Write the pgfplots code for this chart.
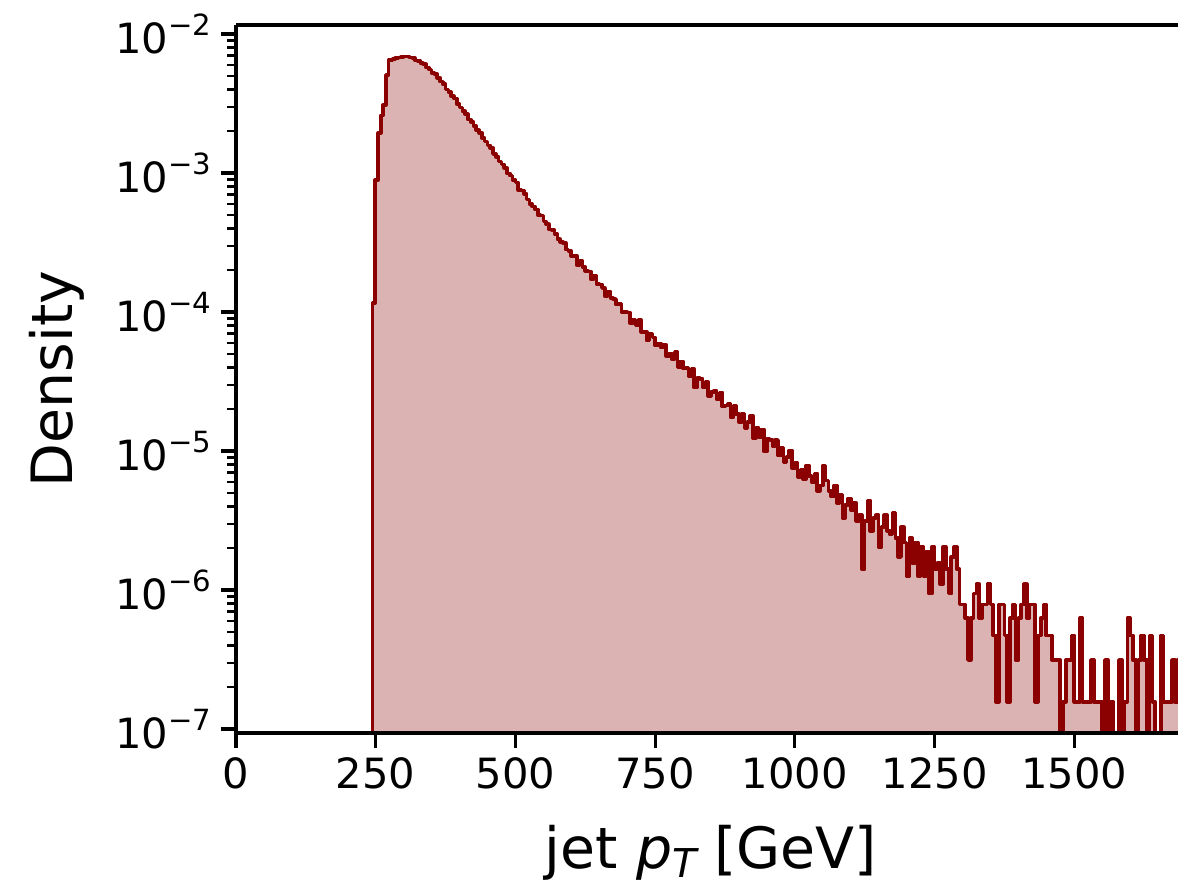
\documentclass[border=0pt]{standalone}
\usepackage{fontspec}
\setmainfont{DejaVu Sans}
\usepackage{pgfplots}
\usepackage{pgfplotstable}
\pgfplotsset{compat=1.18}
\definecolor{histline}{RGB}{139,0,0}
\definecolor{histfill}{RGB}{220,179,179}
\newcommand{\tsup}[1]{10\raisebox{6.4pt}{\fontsize{10.5}{12}\selectfont −#1}}
\pgfplotstableread{
x y
244.5 1e-9
244.5 1.16e-4
249 8.9e-4
254.5 1.94e-3
259 2.6e-3
263.5 3.1e-3
268.5 5.07e-3
273 6.5e-3
280 6.6e-3
285 6.7e-3
290 6.8e-3
295 6.85e-3
300 6.9e-3
305 6.9e-3
310 6.8e-3
315 6.72e-3
320 6.46e-3
325 6.40e-3
330 6.16e-3
335 6.07e-3
340 5.74e-3
345 5.57e-3
350 5.25e-3
355 5.14e-3
360 4.85e-3
365 4.54e-3
370 4.35e-3
375 4.00e-3
380 3.82e-3
385 3.57e-3
390 3.43e-3
395 3.13e-3
400 2.97e-3
405 2.78e-3
410 2.65e-3
415 2.42e-3
420 2.33e-3
425 2.18e-3
430 2.03e-3
435 1.95e-3
440 1.78e-3
445 1.69e-3
450 1.58e-3
455 1.51e-3
460 1.37e-3
465 1.31e-3
470 1.21e-3
475 1.15e-3
480 1.09e-3
485 9.95e-4
490 9.57e-4
495 8.93e-4
500 8.54e-4
505 7.54e-4
510 7.47e-4
515 7.10e-4
520 6.44e-4
525 5.98e-4
530 5.75e-4
535 5.48e-4
540 4.99e-4
545 4.94e-4
550 4.48e-4
555 4.28e-4
560 3.92e-4
565 3.88e-4
570 3.63e-4
575 3.34e-4
580 3.20e-4
585 3.14e-4
590 2.81e-4
595 2.74e-4
600 2.52e-4
605 2.54e-4
610 2.17e-4
615 2.33e-4
620 2.11e-4
625 1.98e-4
630 1.96e-4
635 1.72e-4
640 1.82e-4
645 1.59e-4
650 1.58e-4
655 1.49e-4
660 1.30e-4
665 1.40e-4
670 1.26e-4
675 1.24e-4
680 1.13e-4
685 1.15e-4
690 9.98e-5
695 9.97e-5
700 9.91e-5
705 8.32e-5
710 8.85e-5
715 8.00e-5
720 8.74e-5
725 7.20e-5
730 7.19e-5
735 6.23e-5
740 7.01e-5
745 6.57e-5
750 5.75e-5
755 5.93e-5
760 5.57e-5
765 5.82e-5
770 4.81e-5
775 5.00e-5
780 4.57e-5
785 5.15e-5
790 4.00e-5
795 4.42e-5
800 3.92e-5
805 4.00e-5
810 3.46e-5
815 3.89e-5
820 2.86e-5
825 3.37e-5
830 3.31e-5
835 2.89e-5
840 3.13e-5
845 2.50e-5
850 2.65e-5
855 2.71e-5
860 2.36e-5
865 2.64e-5
870 2.09e-5
875 2.13e-5
880 2.17e-5
885 1.75e-5
890 2.11e-5
895 1.84e-5
900 1.62e-5
905 1.86e-5
910 1.45e-5
915 1.62e-5
920 1.79e-5
925 1.24e-5
930 1.47e-5
935 1.25e-5
940 1.43e-5
945 9.95e-6
950 1.22e-5
955 1.20e-5
960 1.09e-5
965 1.20e-5
970 9.30e-6
975 1.06e-5
980 8.26e-6
985 9.06e-6
990 1.01e-5
995 7.54e-6
1000 8.16e-6
1005 6.44e-6
1010 7.38e-6
1015 6.28e-6
1020 7.85e-6
1025 6.59e-6
1030 5.97e-6
1035 6.91e-6
1040 5.18e-6
1045 5.65e-6
1050 7.85e-6
1055 6.12e-6
1060 5.18e-6
1065 4.71e-6
1070 5.65e-6
1075 4.24e-6
1080 4.87e-6
1085 3.30e-6
1090 4.08e-6
1095 4.55e-6
1100 3.77e-6
1105 4.24e-6
1110 3.14e-6
1115 3.45e-6
1120 1.41e-6
1125 3.14e-6
1130 4.40e-6
1135 2.67e-6
1140 3.30e-6
1145 3.45e-6
1150 2.04e-6
1155 2.83e-6
1160 3.45e-6
1165 2.67e-6
1170 2.51e-6
1175 3.61e-6
1180 2.36e-6
1185 1.73e-6
1190 2.83e-6
1195 2.20e-6
1200 1.26e-6
1205 2.36e-6
1210 1.57e-6
1215 2.20e-6
1220 1.26e-6
1225 2.04e-6
1230 1.26e-6
1235 1.88e-6
1240 9.42e-7
1245 2.04e-6
1250 1.41e-6
1255 1.57e-6
1260 1.10e-6
1265 2.04e-6
1270 1.41e-6
1275 9.42e-7
1280 1.73e-6
1285 2.04e-6
1290 1.41e-6
1295 7.85e-7
1300 7.85e-7
1305 6.28e-7
1310 3.14e-7
1315 6.28e-7
1320 9.42e-7
1325 1.10e-6
1330 6.28e-7
1335 7.85e-7
1340 7.85e-7
1345 1.10e-6
1350 7.85e-7
1355 4.71e-7
1360 1.57e-7
1365 7.85e-7
1370 7.85e-7
1375 4.71e-7
1380 1.57e-7
1385 6.28e-7
1390 7.85e-7
1395 3.14e-7
1400 6.28e-7
1405 7.85e-7
1410 1.10e-6
1415 6.28e-7
1420 7.85e-7
1425 7.85e-7
1430 1.57e-7
1435 4.71e-7
1440 6.28e-7
1445 7.85e-7
1450 4.71e-7
1455 4.71e-7
1460 3.14e-7
1465 3.14e-7
1470 3.14e-7
1475 1e-9
1480 1.57e-7
1485 3.14e-7
1490 3.14e-7
1495 4.71e-7
1500 1.57e-7
1505 1.57e-7
1510 6.28e-7
1515 1.57e-7
1520 1.57e-7
1525 1.57e-7
1530 3.14e-7
1535 1.57e-7
1540 1.57e-7
1545 1.57e-7
1550 1e-9
1555 3.14e-7
1560 1e-9
1565 1.57e-7
1570 1e-9
1575 1e-9
1580 3.14e-7
1585 1e-9
1590 1.57e-7
1595 6.28e-7
1600 4.71e-7
1605 3.14e-7
1610 1e-9
1615 3.14e-7
1620 4.71e-7
1625 3.14e-7
1630 1e-9
1635 4.71e-7
1640 1.57e-7
1645 1e-9
1650 1e-9
1655 4.71e-7
1660 1.57e-7
1665 1.57e-7
1670 1.57e-7
1675 3.14e-7
1680 1.57e-7
1685 3.14e-7
1690 1.57e-7
1695 1.57e-7
1700 1e-9
}\hist
\begin{document}
\begin{tikzpicture}
\path[use as bounding box] (0pt,0pt) rectangle (424.08pt,318.96pt);
\begin{axis}[
  at={(84.96pt,55.08pt)}, anchor=south west,
  scale only axis, width=342pt, height=254.88pt,
  xmin=0, xmax=1700,
  ymode=log, ymin=9.36e-8, ymax=1.161e-2,
  axis x line*=box, axis y line*=left,
  xtick pos=left, ytick pos=left,
  tick align=outside,
  xtick={0,250,500,750,1000,1250,1500},
  xticklabels={0,250,500,750,1000,1250,1500},
  scaled x ticks=false,
  ytick={1e-7,1e-6,1e-5,1e-4,1e-3,1e-2},
  yticklabels={\tsup{7},\tsup{6},\tsup{5},\tsup{4},\tsup{3},\tsup{2}},
  minor ytick={2e-7,3e-7,4e-7,5e-7,6e-7,7e-7,8e-7,9e-7,
               2e-6,3e-6,4e-6,5e-6,6e-6,7e-6,8e-6,9e-6,
               2e-5,3e-5,4e-5,5e-5,6e-5,7e-5,8e-5,9e-5,
               2e-4,3e-4,4e-4,5e-4,6e-4,7e-4,8e-4,9e-4,
               2e-3,3e-3,4e-3,5e-3,6e-3,7e-3,8e-3,9e-3},
  major tick length=5.3pt, minor tick length=3.1pt,
  tick style={black},
  every major tick/.append style={line width=1.1pt},
  every minor tick/.append style={line width=0.85pt},
  axis line style={line width=1.1pt, black},
  ticklabel style={font=\fontsize{15}{18}\selectfont},
  label style={font=\fontsize{20.5}{24}\selectfont},
  xlabel={jet \textit{p}\raisebox{-3pt}{\fontsize{14.3}{16}\selectfont\itshape T} [GeV]},
  ylabel={Density},
  xlabel style={at={(axis description cs:0.5,-0.192)}, anchor=base},
  ylabel style={at={(axis description cs:-0.1716,0.5)}, anchor=base},
  axis on top,
]
\addplot[const plot, draw=histline, line width=1.3pt, fill=histfill, line join=round] table[x=x,y=y] {\hist};
\end{axis}
\end{tikzpicture}
\end{document}
